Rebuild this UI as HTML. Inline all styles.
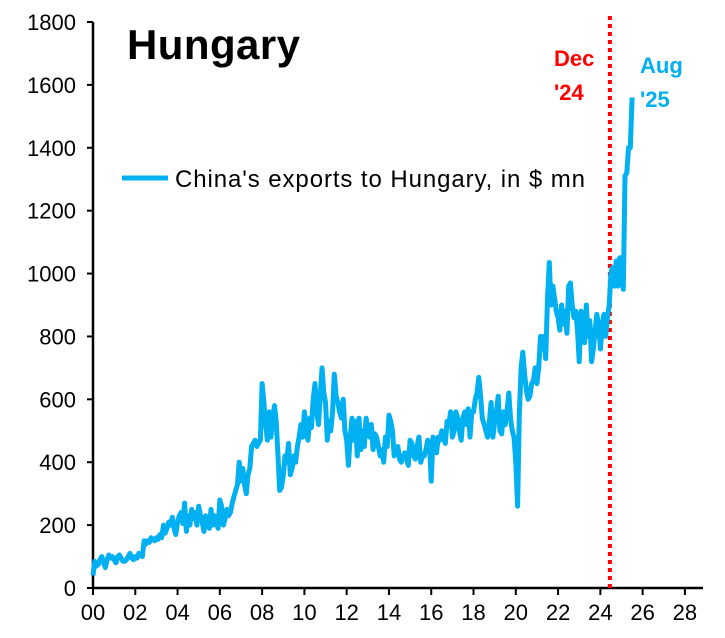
<!DOCTYPE html>
<html><head><meta charset="utf-8"><style>
body{margin:0;background:#fff;}
svg{display:block;font-family:"Liberation Sans",Calibri,sans-serif;}
</style></head><body>
<svg id="chart" width="725" height="638">
<text x="127" y="59" font-size="42" font-weight="bold" fill="#000" textLength="173">Hungary</text>
<g id="axes"></g>
<g id="series"></g>
<line x1="122" y1="178" x2="168" y2="178" stroke="#00B0F0" stroke-width="5"/>
<text x="175" y="187" font-size="24" fill="#000" textLength="410">China's exports to Hungary, in $ mn</text>
<text x="554" y="66" font-size="22" font-weight="bold" fill="#FF0000">Dec</text>
<text x="554" y="100" font-size="22" font-weight="bold" fill="#FF0000">'24</text>
<text x="640" y="73" font-size="22" font-weight="bold" fill="#00B0F0">Aug</text>
<text x="640" y="107" font-size="22" font-weight="bold" fill="#00B0F0">'25</text>
</svg>
<script>
const xTicks=["00","02","04","06","08","10","12","14","16","18","20","22","24","26","28"];
const yTicks=[0,200,400,600,800,1000,1200,1400,1600,1800];
const startYear=2000;
const markerTime=2024.45;
const values=[
40,85,70,75,90,100,80,65,90,105,95,100,
90,80,100,105,95,85,85,90,100,110,95,90,
100,95,110,105,100,150,140,150,145,160,155,150,
160,155,170,160,200,175,190,210,200,225,190,170,
210,230,240,205,270,180,230,200,250,220,240,200,
260,230,210,180,230,220,190,250,200,230,210,190,
280,260,200,220,250,230,240,270,290,310,330,400,
340,380,330,300,360,380,450,460,470,450,460,470,
650,590,520,470,560,480,540,580,530,420,310,320,
360,420,400,460,360,380,420,400,450,480,520,480,
560,510,470,540,510,600,650,560,520,610,700,620,
590,470,530,500,560,680,610,590,560,540,600,500,
470,390,480,540,470,530,420,540,440,500,450,540,
500,480,520,440,490,480,450,420,440,400,480,450,
550,530,500,420,430,450,410,400,420,430,410,390,
470,460,420,410,450,480,400,420,420,440,470,460,
340,480,470,430,480,470,500,480,460,530,520,560,
480,500,560,540,500,470,540,560,520,570,480,560,
560,600,620,670,610,540,520,500,480,530,590,480,
530,560,610,500,490,560,520,560,620,540,500,480,
400,260,550,700,750,680,630,600,610,650,660,700,
650,700,800,760,800,730,920,1035,900,960,920,880,
860,820,900,840,880,810,960,970,900,860,880,820,
720,880,820,780,900,800,850,720,760,820,870,840,
760,830,870,800,860,900,1000,1020,960,1040,960,1050,
1000,950,1310,1320,1400,1400,1560
];
const X0=93,XS=21.14,Y0=588,YS=566/1800;
const xs=t=>X0+(t-startYear)*XS, ys=v=>Y0-v*YS;
const NS="http://www.w3.org/2000/svg";
const axes=document.getElementById('axes');
function mk(tag,attrs,parent){const e=document.createElementNS(NS,tag);for(const k in attrs)e.setAttribute(k,attrs[k]);parent.appendChild(e);return e;}
const yAxis=mk('line',{x1:X0,y1:Y0,x2:X0,y2:22,stroke:'#000','stroke-width':2.5},axes);


const xAxis=mk('line',{x1:X0-1,y1:Y0,x2:703,y2:Y0,stroke:'#000','stroke-width':2.5},axes);


yTicks.forEach(v=>{
  const tk=mk('line',{x1:X0-6,x2:X0,y1:ys(v),y2:ys(v),stroke:'#000','stroke-width':2},axes);
  
  
  const t=mk('text',{x:X0-17,y:ys(v)+8,'text-anchor':'end','font-size':22,fill:'#000'},axes);
  t.textContent=v;
  
  
});
xTicks.forEach(l=>{
  const yr=2000+parseInt(l,10);
  const tk=mk('line',{x1:xs(yr),x2:xs(yr),y1:Y0,y2:Y0+7,stroke:'#000','stroke-width':2},axes);
  
  
  const t=mk('text',{x:xs(yr),y:Y0+32,'text-anchor':'middle','font-size':22,fill:'#000'},axes);
  t.textContent=l;
  
  
});
const marker=mk('line',{x1:xs(markerTime),x2:xs(markerTime),y1:16,y2:588,stroke:'#FF0000','stroke-width':4,'stroke-dasharray':'4 4'},axes);


const pts=values.map((v,i)=>xs(startYear+i/12).toFixed(1)+','+ys(v).toFixed(1)).join(' ');
const line=mk('polyline',{points:pts,fill:'none',stroke:'#00B0F0','stroke-width':5,'stroke-linejoin':'round'},document.getElementById('series'));


</script>
</body></html>
